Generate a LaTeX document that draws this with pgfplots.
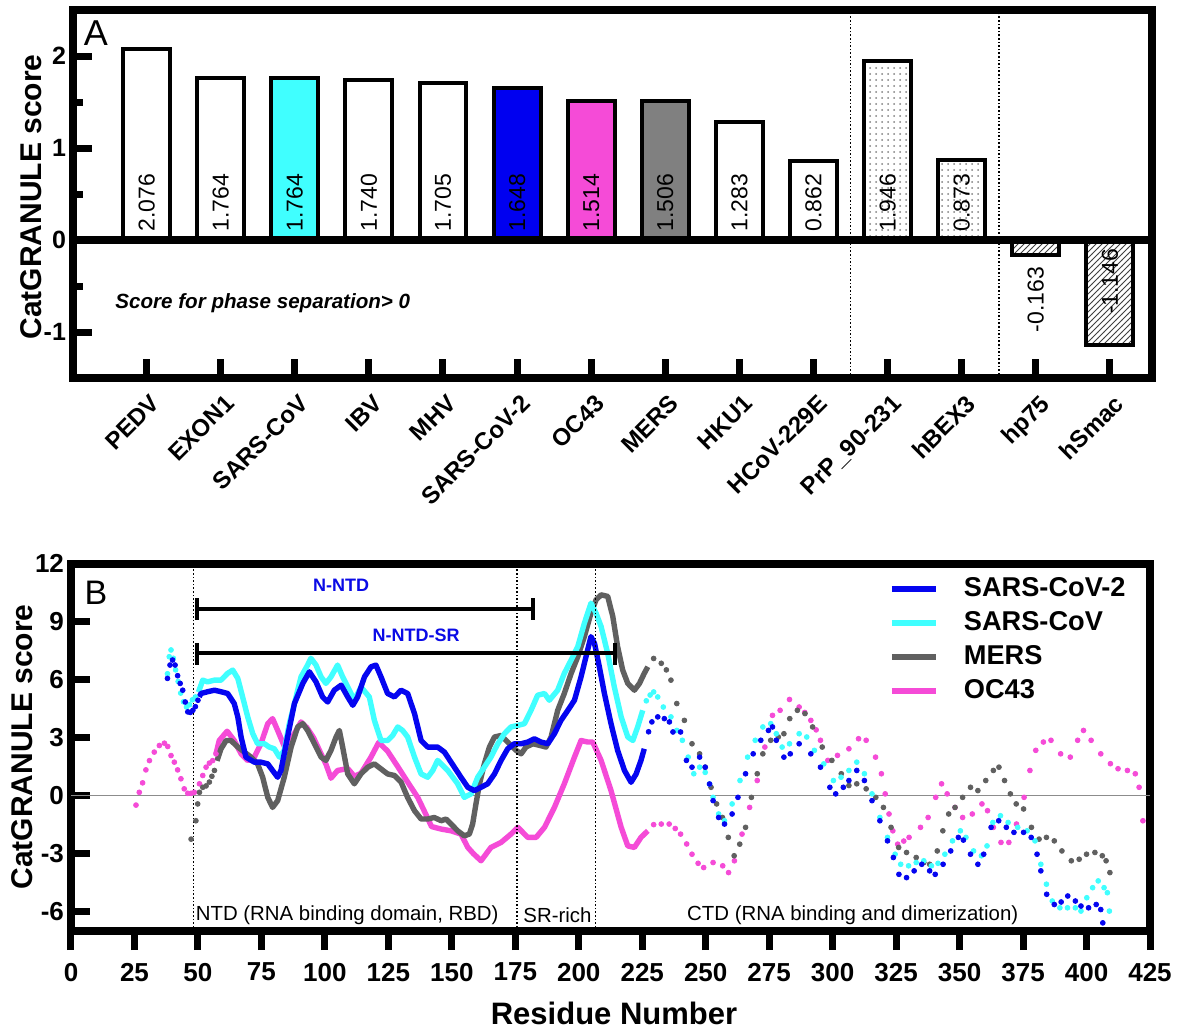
\documentclass[border=0pt]{standalone}
\usepackage{fontspec}
\setmainfont{Liberation Sans}
\usepackage{pgfplots}
\pgfplotsset{compat=1.18}
\usetikzlibrary{patterns}

\definecolor{cblue}{RGB}{5,5,240}
\definecolor{ccyan}{RGB}{64,255,255}
\definecolor{cgray}{RGB}{96,96,96}
\definecolor{cpink}{RGB}{245,75,215}
\definecolor{bblue}{RGB}{0,0,240}
\definecolor{bgray}{RGB}{128,128,128}
\definecolor{lblue}{RGB}{10,10,230}
\definecolor{zgray}{RGB}{140,140,140}

\newcommand{\fs}[1]{\fontsize{#1pt}{#1pt}\selectfont}

\pgfplotsset{
  barA/.style={ybar, bar width=0.634, bar shift=0pt, draw=black, line width=2pt},
  dotB/.style={only marks, mark=*, mark size=1.2pt, forget plot},
  solB/.style={line width=2.7pt, line join=round, mark=none},
}

\begin{document}
\begin{tikzpicture}
\useasboundingbox (0,0) rectangle (590.5pt,517pt);
\fill[white] (0,0) rectangle (590.5pt,517pt);

% ---------------- Panel A ----------------
\begin{axis}[
  at={(36.5pt,328pt)}, anchor=south west,
  scale only axis, width=539.5pt, height=184pt,
  xmin=-0.993, xmax=13.568, ymin=-1.5, ymax=2.5,
  axis line style={line width=4pt, line cap=rect},
  xtick={0,...,13},
  xticklabels={PEDV,EXON1,SARS-CoV,IBV,MHV,SARS-CoV-2,OC43,MERS,HKU1,HCoV-229E,PrP\_90-231,hBEX3,hp75,hSmac},
  ytick={-1,0,1,2}, yticklabels={-1,0,1,2},
  minor ytick={-0.5,0.5,1.5},
  xtick pos=left, ytick pos=left,
  tick align=inside,
  major tick length=9.5pt, minor tick length=5pt,
  major tick style={line width=3.5pt, black},
  minor tick style={line width=3.5pt, black},
  yticklabel style={font=\bfseries\fs{12.5}},
  xticklabel style={font=\bfseries\fs{12}, xshift=1.5pt, yshift=-2.7pt, rotate=45, anchor=north east},
  clip=false,
]
\addplot[barA, fill=white] coordinates {(0,2.076)};
\addplot[barA, fill=white] coordinates {(1,1.764)};
\addplot[barA, fill=ccyan] coordinates {(2,1.764)};
\addplot[barA, fill=white] coordinates {(3,1.740)};
\addplot[barA, fill=white] coordinates {(4,1.705)};
\addplot[barA, fill=bblue] coordinates {(5,1.648)};
\addplot[barA, fill=cpink] coordinates {(6,1.514)};
\addplot[barA, fill=bgray] coordinates {(7,1.506)};
\addplot[barA, fill=white] coordinates {(8,1.283)};
\addplot[barA, fill=white] coordinates {(9,0.862)};
\addplot[barA, preaction={fill=white}, pattern=dots, pattern color=gray] coordinates {(10,1.946)};
\addplot[barA, preaction={fill=white}, pattern=dots, pattern color=gray] coordinates {(11,0.873)};
\addplot[barA, preaction={fill=white}, pattern=north east lines, pattern color=darkgray] coordinates {(12,-0.163)};
\addplot[barA, preaction={fill=white}, pattern=north east lines, pattern color=darkgray] coordinates {(13,-1.146)};

\draw[line width=4pt] (axis cs:-0.993,0) -- (axis cs:13.568,0);
\draw[densely dotted, line width=0.8pt] (axis cs:9.5,-1.5) -- (axis cs:9.5,2.5);
\draw[densely dotted, line width=0.8pt] (axis cs:11.5,-1.5) -- (axis cs:11.5,2.5);

\begin{scope}[every node/.style={rotate=90, inner sep=0pt, font=\fs{11.5}}]
\node[anchor=west] at (axis cs:0,0.09) {2.076};
\node[anchor=west] at (axis cs:1,0.09) {1.764};
\node[anchor=west] at (axis cs:2,0.09) {1.764};
\node[anchor=west] at (axis cs:3,0.09) {1.740};
\node[anchor=west] at (axis cs:4,0.09) {1.705};
\node[anchor=west] at (axis cs:5,0.09) {1.648};
\node[anchor=west] at (axis cs:6,0.09) {1.514};
\node[anchor=west] at (axis cs:7,0.09) {1.506};
\node[anchor=west] at (axis cs:8,0.09) {1.283};
\node[anchor=west] at (axis cs:9,0.09) {0.862};
\node[anchor=west] at (axis cs:10,0.09) {1.946};
\node[anchor=west] at (axis cs:11,0.09) {0.873};
\node[anchor=east] at (axis cs:12,-0.29) {-0.163};
\node[anchor=east] at (axis cs:13,-0.09) {-1.146};
\end{scope}
\end{axis}

% ---------------- Panel B ----------------
\begin{axis}[
  at={(35.5pt,51.5pt)}, anchor=south west,
  scale only axis, width=539.5pt, height=183.75pt,
  xmin=0, xmax=425, ymin=-7, ymax=12,
  axis line style={line width=4pt, line cap=rect},
  xtick={0,25,50,75,100,125,150,175,200,225,250,275,300,325,350,375,400,425},
  xticklabels={0,25,50,75,100,125,150,175,200,225,250,275,300,325,350,375,400,425},
  ytick={-6,-3,0,3,6,9,12}, yticklabels={-6,-3,0,3,6,9,12},
  xtick pos=left, ytick pos=left,
  xtick align=outside, ytick align=inside,
  major tick length=9.5pt,
  major tick style={line width=3.5pt, black},
  tick label style={font=\bfseries\fs{13}},
  xticklabel style={yshift=-3pt},
  clip=false,
  reverse legend,
  legend cell align=left,
  legend style={at={(axis cs:322,11.29)}, anchor=north west, draw=none, fill=none,
    inner sep=0pt, row sep=6pt, font=\bfseries\fs{13.6},
    nodes={inner sep=0pt},
    /tikz/every odd column/.append style={column sep=12.5pt}},
  legend image code/.code={\draw[#1, line width=3pt] (0pt,0pt) -- (22pt,0pt);},
]
\draw[zgray, line width=0.8pt] (axis cs:0,0) -- (axis cs:425,0);

% dotted parts
\addplot[dotB, color=cpink] coordinates {
(25.6,-0.49)(26.9,0.17)(28.2,0.66)(29.5,1.33)(30.9,1.81)(32.8,2.25)(34.8,2.59)(36.8,2.71)(38.1,2.54)(39.4,2.07)(40.7,1.73)(42,1.33)(43.3,0.87)(44.6,0.35)(46,0.12)(47.3,0.12)(48.6,0.17)(50.6,0.61)(51.9,1.04)(53.2,1.47)(54.5,1.68)(55.8,1.81)(57.1,2.16)};
\addplot[dotB, color=cpink] coordinates {
(229.5,-1.5)(232.5,-1.47)(235.6,-1.47)(238,-1.7)(240.1,-1.99)(242.5,-2.5)(244.6,-3.03)(247,-3.5)(249.2,-3.72)(252.9,-3.46)(256.7,-3.63)(259,-3.98)(261.3,-3.37)(264.3,-1.99)(267.3,-0.61)(270.3,0.78)(273.3,2.51)(276.3,4.15)(279.3,4.41)(283,4.97)(286.8,4.58)(289,4.3)(291.4,3.89)(293.5,3.4)(295.2,2.86)(298.1,1.82)(301.9,2.08)(306.4,2.42)(310.2,2.94)(313.2,2.86)(316.9,1.99)(319.2,1.13)(320.7,0.09)(322.2,-0.95)(323.7,-1.82)(325.6,-2.51)(328,-2.35)(330.1,-2.16)(334.6,-1.64)(337.6,-1.13)(340.6,-0.09)(342.9,0.61)(345.1,0.09)(348.2,-0.61)(351.2,-1.13)(355,-0.95)(358.8,-0.43)(361,-0.78)(363.3,-1.64)(366.3,-2.42)(369.4,-2.42)(372.4,-1.47)(375.4,-0.09)(377.7,1.3)(380,2.34)(383,2.77)(386,2.86)(389.8,2.16)(393.6,1.99)(396.5,2.86)(398.8,3.37)(401.8,2.86)(405.6,2.16)(409.4,1.65)(412.4,1.39)(416.1,1.3)(419.2,1.13)(420.7,0.43)(422.2,-1.3)};
\addplot[dotB, color=cgray] coordinates {
(47.3,-2.25)(49.2,-1.3)(49.9,-0.43)(50.6,0.17)(51.9,0.43)(53.2,0.5)(54.5,0.7)(55.5,1.0)(56.5,1.3)};
\addplot[dotB, color=cgray] coordinates {
(229.5,7.09)(232.5,6.84)(234.5,6.5)(236.3,5.97)(238.6,4.76)(241.6,3.89)(244.6,2.68)(247.6,2.16)(249.8,1.47)(252.1,0.43)(254.3,-0.43)(256.6,-1.13)(258.9,-2.16)(261.2,-3.11)(263.4,-2.51)(265.7,-1.64)(268,-0.09)(270.3,1.13)(272.5,2.16)(275.6,2.86)(278.6,3.03)(280.8,3.2)(283.1,3.98)(286.1,4.41)(289.1,4.24)(292.1,3.55)(295.9,2.51)(299.7,1.82)(303.4,1.13)(306.4,0.52)(309.5,0.61)(313.2,0.35)(317,-0.09)(320,-0.61)(323,-1.64)(326,-2.68)(329.1,-2.94)(332.9,-3.2)(335.9,-3.46)(338.2,-3.55)(341.2,-2.86)(343.4,-1.82)(345.7,-0.95)(348.2,-0.61)(351.2,-0.09)(354.3,0.43)(357.2,0.26)(360.3,0.78)(363.3,1.3)(365.5,1.47)(367.7,0.78)(370,0.09)(372.3,-0.43)(375.2,-0.69)(378.3,-1.64)(381.3,-2.25)(384.2,-2.16)(387.3,-2.34)(390.3,-2.86)(394,-3.37)(397.1,-3.29)(400,-3.03)(403.3,-2.94)(406.2,-3.11)(407.7,-3.37)(409.2,-3.98)};
\addplot[dotB, color=ccyan] coordinates {
(38,6.3)(38.7,7.18)(39.4,7.53)(40.3,7.1)(41.2,6.5)(42.2,5.9)(43.2,5.3)(44.3,4.85)(45.5,4.58)(46.7,4.7)(47.8,4.95)(49,5.1)};
\addplot[dotB, color=ccyan] coordinates {
(226.6,4.9)(228.1,5.2)(229.5,5.36)(231.1,5.1)(233.3,4.58)(236.3,4.07)(238.6,3.37)(240.8,2.86)(243.1,1.99)(245.3,1.13)(247.6,1.47)(249.8,1.2)(251.5,0.6)(252.9,-0.09)(255.1,-0.95)(257.4,-1.3)(260.4,-0.43)(263.5,0.78)(266.5,1.99)(269.5,2.86)(272.5,3.55)(275.6,3.72)(277.8,3.2)(280.1,2.51)(283,2.68)(286.8,3.2)(289.8,3.03)(292.8,2.34)(296.5,1.64)(300.3,0.78)(303.3,0.95)(306.4,1.3)(309.5,1.73)(312.5,1.13)(315.5,0.09)(318.6,-1.13)(321.6,-2.16)(324.6,-3.03)(326.8,-3.55)(329.9,-3.63)(332.9,-3.46)(335.9,-3.37)(338.9,-3.63)(341.5,-3.5)(344.2,-3.03)(347.2,-2.34)(350.3,-1.82)(352.5,-2.16)(355.5,-2.86)(358.6,-3.11)(360.8,-2.6)(363.1,-1.39)(366.1,-1.04)(369.1,-1.39)(372.9,-1.64)(376.6,-1.82)(379.7,-2.34)(382,-3.55)(384.2,-4.58)(386.5,-5.45)(389.5,-5.8)(392.5,-5.8)(395.6,-5.8)(397.8,-5.97)(400.1,-5.28)(402.4,-4.76)(404.6,-4.41)(406.9,-4.76)(408.2,-5.02)(409,-5.97)};
\addplot[dotB, color=cblue] coordinates {
(38,6.06)(39,6.75)(40,7.01)(41,6.75)(42,6.2)(43,5.8)(44,5.45)(45,4.84)(46,4.33)(47,4.3)(48,4.41)(49,4.6)(50,4.93)};
\addplot[dotB, color=cblue] coordinates {
(227.5,3.3)(228.8,3.81)(231.1,4.07)(233.7,3.98)(235.7,3.81)(237.1,3.29)(240.1,3.29)(242.4,1.82)(244.6,1.47)(247.6,1.99)(249.8,1.47)(251.5,0.6)(252.9,-0.26)(255.1,-1.13)(257.4,-1.47)(260.4,-0.95)(262.7,-0.09)(265.7,1.13)(268.7,2.16)(271.7,2.86)(274.7,3.37)(276.3,3.55)(277.8,2.86)(280.8,1.99)(283.3,2.16)(286.8,2.68)(291.4,2.16)(295.2,1.47)(298.9,0.43)(301.2,0.09)(304.2,0.43)(306.4,0.78)(309.5,1.30)(312.5,0.78)(315.5,-0.26)(318.6,-1.3)(321.6,-2.34)(323.9,-3.2)(326.1,-4.07)(329.1,-4.24)(332.1,-3.89)(335.1,-3.55)(338.2,-3.89)(340.4,-4.07)(343.5,-3.55)(346.5,-2.86)(349.5,-2.16)(351.5,-2.3)(354.3,-3.03)(357.2,-3.55)(359.5,-3.03)(362.4,-1.64)(365.4,-1.3)(368.4,-1.64)(371.4,-1.9)(375.2,-1.9)(378.2,-2.16)(380.5,-3.03)(382,-3.89)(384.3,-5.1)(387.3,-5.63)(390,-5.5)(392.6,-5.19)(395.6,-5.45)(397.8,-5.71)(400.8,-5.8)(403.8,-5.63)(405.6,-5.89)(406.4,-6.58)};

% solid parts (drawn bottom to top)
\addplot[solB, color=cpink] coordinates {
(57.1,2.16)(58.4,2.85)(61.5,3.33)(64.3,2.85)(67,2.16)(69.6,1.81)(72.2,1.99)(74.8,2.68)(77.5,3.72)(79.4,3.98)(81.4,3.37)(84.5,2.4)(87.5,3.1)(90.6,3.81)(93,3.5)(95.5,3.0)(98,2.3)(100.5,1.6)(102.4,0.9)(105,1.3)(109,1.4)(111.6,1.0)(114.2,1.15)(118.2,2.0)(121.2,2.75)(124.7,2.3)(128.7,1.5)(132.6,0.7)(136.6,-0.1)(139.7,-0.95)(142,-1.6)(145.8,-1.73)(149.7,-1.82)(153.6,-1.99)(156.3,-2.68)(158.5,-3.0)(161.5,-3.37)(165.4,-2.68)(169.4,-2.42)(173.3,-1.99)(176,-1.64)(179.9,-2.16)(183.2,-2.16)(186.5,-1.64)(190.4,-0.61)(194.3,0.61)(198.3,1.99)(200.9,2.85)(203.5,2.77)(205.5,2.77)(208.8,1.82)(212.7,0.26)(216.7,-1.64)(219.3,-2.6)(221.9,-2.68)(224.5,-2.16)(227.2,-1.82)};
\addlegendentry{OC43}
\addplot[solB, color=cgray] coordinates {
(57.5,1.8)(59.1,2.42)(61.1,2.85)(63,2.85)(65.7,2.51)(68.3,2.25)(70.9,1.99)(73.5,1.64)(75.5,0.95)(77.5,-0.09)(79.4,-0.61)(81.4,-0.26)(84,0.95)(86.7,2.51)(89.3,3.55)(91.3,3.72)(93.2,3.37)(95.9,2.68)(98.5,1.99)(100.4,1.82)(102.4,2.34)(104.4,3.03)(105.7,3.37)(107,2.51)(109,1.12)(111.6,0.61)(114.2,1.12)(116.9,1.47)(119.5,1.64)(122.1,1.38)(124.7,1.12)(127.4,1.04)(130,0.7)(132.6,-0.1)(135.3,-0.78)(137.9,-1.21)(140.5,-1.21)(143.1,-1.13)(145.8,-1.3)(147.7,-1.21)(149.7,-1.47)(152.3,-1.82)(154.9,-2.08)(156.9,-1.99)(158.2,-1.47)(159.5,-0.43)(160.9,0.61)(162.8,1.64)(164.8,2.51)(166.8,3.03)(169.4,3.11)(171.4,2.85)(173.3,2.6)(175.3,2.34)(177.3,2.16)(179.2,2.51)(181.9,2.68)(184.5,2.6)(187.1,2.51)(189.1,3.03)(191.7,4.41)(194.3,5.28)(197,6.32)(199.6,7.18)(202.2,8.22)(204.8,9.43)(206.8,10.12)(208.8,10.38)(211.4,10.3)(213.4,9.26)(215.3,7.7)(217.3,6.49)(219.3,5.8)(221.9,5.45)(223.9,5.8)(225.8,6.32)(227.2,6.66)};
\addlegendentry{MERS}
\addplot[solB, color=ccyan] coordinates {
(50.2,5.35)(51.9,5.97)(53.8,5.88)(56.5,5.97)(59.1,5.97)(61.7,6.32)(63.7,6.49)(65.7,6.06)(67.6,5.1)(69.6,4.07)(71.6,3.2)(73.5,2.68)(76.2,2.68)(78.1,2.51)(80.1,2.42)(82.1,1.99)(84,2.34)(86,3.72)(88,4.76)(90.6,6.14)(93.2,6.75)(94.5,7.1)(96.5,6.75)(98.5,6.14)(100.4,5.8)(102.4,6.14)(105,6.75)(107,6.14)(110.3,5.28)(111.6,4.93)(114.2,5.62)(117.5,5.1)(119.5,3.89)(122.1,2.85)(124.7,2.85)(126.7,3.11)(128.7,3.55)(130.6,3.37)(132.6,3.03)(135.3,1.99)(137.9,1.12)(140.5,0.95)(142.5,1.3)(144.4,1.82)(148.4,1.3)(152.3,0.61)(154.9,-0.09)(157.6,0.09)(160.2,0.95)(162.8,1.47)(165.4,1.99)(168.1,2.68)(170.7,3.2)(173.3,3.55)(176,3.63)(178.6,3.72)(181.2,4.41)(183.8,5.19)(186.5,5.28)(188.4,4.93)(191.7,5.45)(194.3,6.32)(197,7.01)(199.6,7.7)(202.2,8.91)(204.8,9.95)(206.8,9.43)(208.8,8.74)(211.4,7.35)(214,5.62)(216.7,4.07)(219.3,3.03)(221.3,2.85)(223.2,3.55)(225.2,4.41)};
\addlegendentry{SARS-CoV}
\addplot[solB, color=cblue] coordinates {
(50.5,5.1)(51.2,5.28)(53.8,5.37)(56.5,5.45)(59.1,5.37)(61.7,5.28)(64.3,4.76)(65.7,4.07)(67,3.03)(68.9,1.99)(72.2,1.73)(74.8,1.73)(77.5,1.64)(79.4,1.3)(81.4,0.95)(82.7,1.3)(85.3,3.03)(88,4.76)(91.3,5.8)(93.9,6.4)(96.5,5.88)(99.1,5.1)(101.1,4.84)(103.7,5.45)(106.4,5.71)(109,5.1)(111,4.67)(112.9,5.1)(115.6,6.14)(118.2,6.66)(120.1,6.75)(122.1,6.14)(124.7,5.28)(127.4,5.1)(130,5.45)(132.6,5.28)(135.3,4.24)(137.9,2.85)(140.5,2.51)(144.4,2.51)(147.1,2.25)(151,1.47)(153.6,0.95)(156.3,0.43)(158.9,0.26)(161.5,0.43)(164.1,0.61)(166.8,1.12)(169.4,1.82)(172,2.42)(174.6,2.68)(177.3,2.68)(179.9,2.77)(182.5,2.94)(185.1,2.77)(187.8,2.68)(190.4,3.2)(193,3.89)(195.7,4.41)(198.3,4.93)(200.9,6.14)(203.5,7.53)(204.8,8.22)(206.2,7.87)(208.1,6.66)(210.1,5.28)(212.7,3.72)(215.3,2.34)(218,1.3)(220.6,0.69)(222.6,1.12)(224.5,1.82)(225.8,2.42)};
\addlegendentry{SARS-CoV-2}

% region separators
\draw[densely dotted, line width=0.8pt] (axis cs:48.3,-7) -- (axis cs:48.3,12);
\draw[densely dotted, line width=0.8pt] (axis cs:175.7,-7) -- (axis cs:175.7,12);
\draw[densely dotted, line width=0.8pt] (axis cs:206.6,-7) -- (axis cs:206.6,12);

% brackets
\draw[line width=2pt] (axis cs:49.7,9.63) -- (axis cs:182,9.63);
\draw[line width=2pt] (axis cs:49.7,10.2) -- (axis cs:49.7,9.08);
\draw[line width=2pt] (axis cs:182,10.2) -- (axis cs:182,9.08);
\draw[line width=2pt] (axis cs:49.7,7.36) -- (axis cs:214.4,7.36);
\draw[line width=2pt] (axis cs:49.7,7.9) -- (axis cs:49.7,6.75);
\draw[line width=2pt] (axis cs:214.4,7.9) -- (axis cs:214.4,6.75);
\node[text=lblue, font=\bfseries\fs{9}] at (axis cs:106.4,10.89) {N-NTD};
\node[text=lblue, font=\bfseries\fs{9}] at (axis cs:135.9,8.3) {N-NTD-SR};

\node[font=\fs{10.2}] at (axis cs:108.8,-6.17) {NTD (RNA binding domain, RBD)};
\node[font=\fs{10.2}] at (axis cs:191.6,-6.17) {SR-rich};
\node[font=\fs{10.2}] at (axis cs:307.9,-6.17) {CTD (RNA binding and dimerization)};
\end{axis}

% labels
\node[font=\fs{18}] at (48pt,500.5pt) {A};
\node[font=\fs{17}] at (48pt,220.5pt) {B};
\node[font=\bfseries\itshape\fs{10.3}, anchor=west, inner sep=0pt] at (57.5pt,365.25pt) {Score for phase separation> 0};
\node[font=\bfseries\fs{15}, rotate=90] at (15.75pt,418.5pt) {CatGRANULE score};
\node[font=\bfseries\fs{15}, rotate=90] at (11pt,143.5pt) {CatGRANULE score};
\node[font=\bfseries\fs{15.5}] at (307pt,10.25pt) {Residue Number};
\end{tikzpicture}
\end{document}
